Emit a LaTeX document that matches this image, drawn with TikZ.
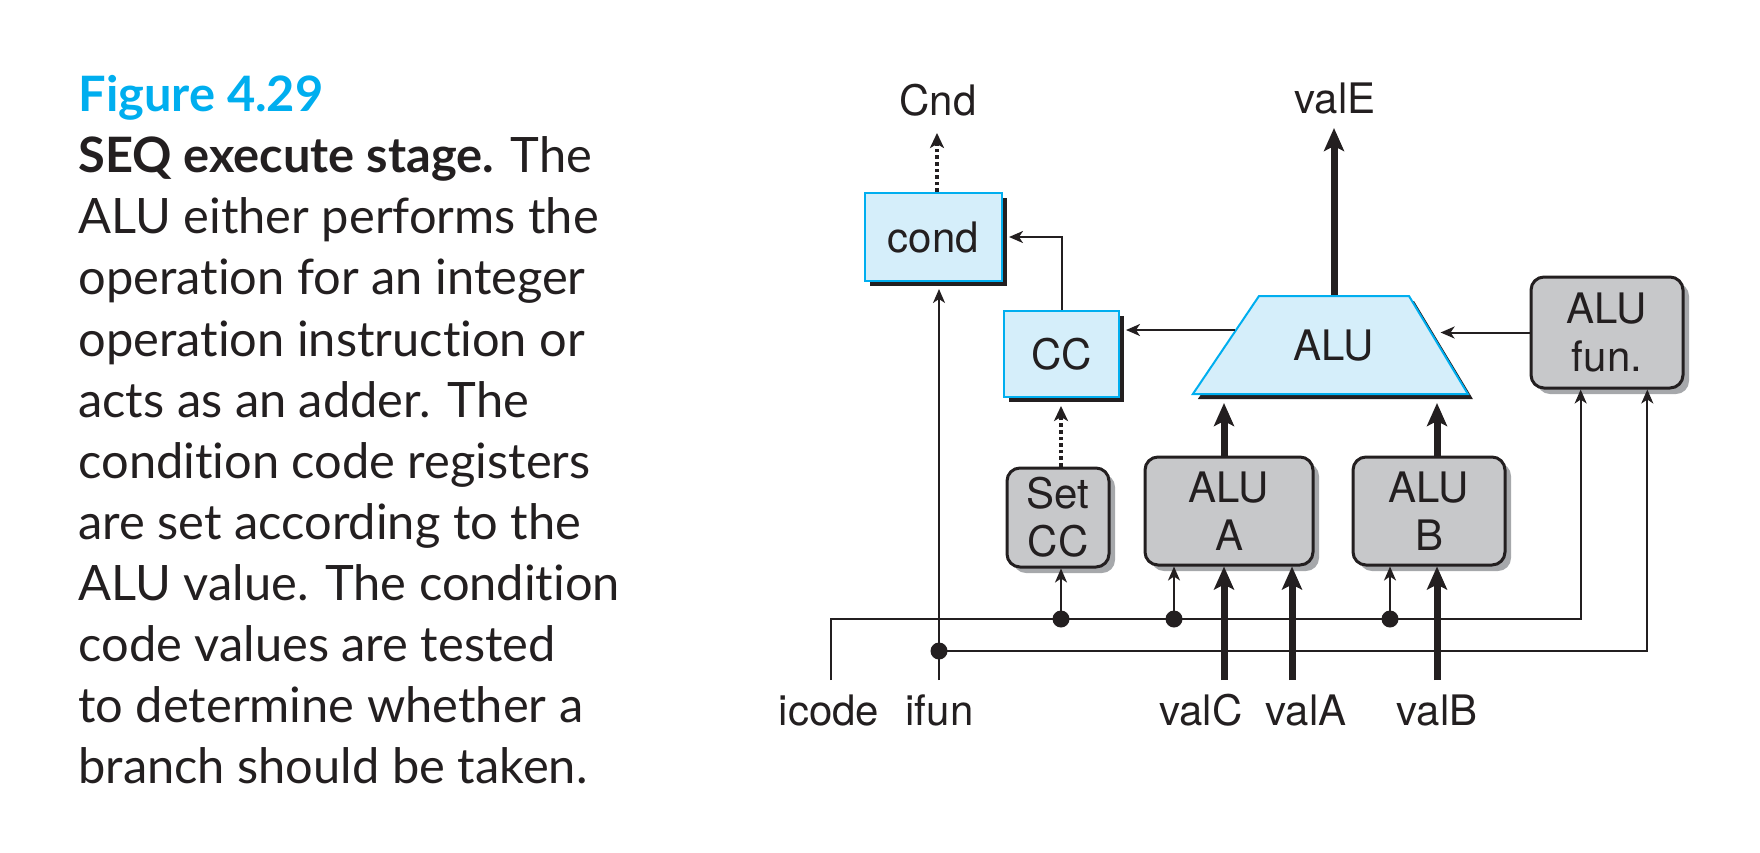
\documentclass[tikz,border=0pt]{standalone}
\usepackage{fontspec}
\newfontfamily\capfont[Ligatures=NoCommon]{Lato}
\newfontfamily\diafont{TeX Gyre Heros}
\usepackage{tikz}
\usetikzlibrary{shapes.geometric,arrows.meta,shadows}
\usetikzlibrary{positioning,calc}
\definecolor{figcyan}{HTML}{00AEEF}
\definecolor{boxblue}{HTML}{D5EEFA}
\definecolor{boxgray}{HTML}{C7C8CA}
\definecolor{shadegray}{HTML}{A6A8AB}
\definecolor{inkblack}{HTML}{231F20}
\tikzset{
  diatext/.style={font=\diafont\fontsize{21}{24}\selectfont,text=inkblack},
  blockbox/.style={diatext,draw=figcyan,line width=1pt,fill=boxblue,inner sep=0pt,
    drop shadow={shadow xshift=2.5pt,shadow yshift=-2.5pt,opacity=1,fill=inkblack}},
  logicbox/.style={diatext,draw=inkblack,line width=1.5pt,fill=boxgray,rounded corners=6.5pt,
    inner sep=0pt,align=center,
    drop shadow={shadow xshift=3pt,shadow yshift=-3pt,opacity=1,fill=shadegray}},
  signame/.style={diatext,inner sep=0pt,anchor=base},
  wire/.style={draw=inkblack,line width=1pt,arrows={-Stealth[length=7pt,width=6pt,inset=2pt]}},
  bus/.style={draw=inkblack,line width=3.5pt,arrows={-Stealth[length=11.5pt,width=10pt,inset=2.5pt]}},
  flag/.style={draw=inkblack,line width=1.8pt,dash pattern=on 1.8pt off 1.5pt,
    arrows={-Stealth[length=7.5pt,width=7pt,inset=2pt]}},
  junction/.style={circle,fill=inkblack,minimum size=8.5pt,inner sep=0pt}
}
\begin{document}
\begin{tikzpicture}[x=0.5pt,y=-0.5pt]
        \useasboundingbox (0,0) rectangle (1760,852);
        \node[anchor=north west,inner sep=0pt,align=left,text=inkblack,
          font=\capfont\fontsize{24.4}{30.55}\selectfont] (caption) at (78,75)
          {\textcolor{figcyan}{\bfseries Figure 4.29}\\
           {\bfseries SEQ execute stage.} The\\
           ALU either performs the\\
           operation for an integer\\
           operation instruction or\\
           acts as an adder. The\\
           condition code registers\\
           are set according to the\\
           ALU value. The condition\\
           code values are tested\\
           to determine whether a\\
           branch should be taken.};
        % blocks
        \node[blockbox,minimum width=68.5pt,minimum height=44pt] (cond) at (933.5,237) {cond};
        \node[blockbox,minimum width=57.5pt,minimum height=43pt] (cc) at (1061.5,354) {CC};
        \node[blockbox,trapezium,trapezium left angle=56,trapezium right angle=59,
          text width=75pt,align=center,text height=15pt,text depth=0pt,
          inner xsep=0pt,inner ysep=17pt,
          anchor=bottom left corner] (alu) at (1191,395) {ALU};
        \node[logicbox,minimum width=76pt,minimum height=55.5pt] (alufun) at (1607,332.5) {ALU\\fun.};
        \node[logicbox,minimum width=51pt,minimum height=49.5pt] (setcc) at (1058,517.5) {Set\\CC};
        \node[logicbox,minimum width=84pt,minimum height=54pt] (alua) at (1229,511) {ALU\\A};
        \node[logicbox,minimum width=76pt,minimum height=54pt] (alub) at (1429,511) {ALU\\B};
        % signal names
        \node[signame] (cnd) at (938,115) {Cnd};
        \node[signame] (vale) at (1335,113) {valE};
        \node[signame] (icode) at (829,725) {icode};
        \node[signame] (ifun) at (939.5,725) {ifun};
        \node[signame] (valc) at (1201,725) {valC};
        \node[signame] (vala) at (1306,725) {valA};
        \node[signame] (valb) at (1437,725) {valB};
        \coordinate (cndout) at (937,133);
        \coordinate (valeout) at (1333,128);
        \coordinate (icodein) at (831,680);
        \coordinate (ifunin) at (939,680);
        \coordinate (valcin) at (1224,680);
        \coordinate (valain) at (1292,680);
        \coordinate (valbin) at (1437,680);
        \node[junction] (dset) at (1061,619) {};
        \node[junction] (dalua) at (1174,619) {};
        \node[junction] (dalub) at (1390,619) {};
        \node[junction] (difun) at (939,651) {};
        \coordinate (fa) at ($(alufun.south west)!.33!(alufun.south east)$);
        \coordinate (fb) at ($(alufun.south west)!.76!(alufun.south east)$);
        \coordinate (alul) at ($(alu.top left corner)!.35!(alu.bottom left corner)$);
        \coordinate (alur) at ($(alu.top right corner)!.35!(alu.bottom right corner)$);
        % outputs
        \draw[flag] (cndout |- cond.north) -- (cndout);
        \draw[bus] (alu.top side) -- (alu.top side |- valeout);
        \draw[wire] (cc.north) |- ($(cond.east)+(3pt,0)$);
        \draw[wire] (alul) -- ($(cc.east |- alul)+(3pt,0)$);
        \draw[wire] (alufun.west) -- ($(alufun.west -| alur)+(5pt,0)$);
        \draw[flag] (dset |- setcc.north) -- ($(dset |- cc.south)+(0,-4pt)$);
        \draw[bus] (valcin |- alua.north) -- ($(valcin |- alu.bottom side)+(0,-4pt)$);
        \draw[bus] (valbin |- alub.north) -- ($(valbin |- alu.bottom side)+(0,-4pt)$);
        % inputs
        \draw[wire] (icodein) |- (dset.center) -| (fa);
        \draw[wire] (ifunin) -- ($(ifunin |- cond.south)+(0,-3.5pt)$);
        \draw[wire] (difun.center) -| (fb);
        \draw[wire] (dset.center) -- (dset |- setcc.south);
        \draw[wire] (dalua.center) -- (dalua |- alua.south);
        \draw[wire] (dalub.center) -- (dalub |- alub.south);
        \draw[bus] (valcin) -- (valcin |- alua.south);
        \draw[bus] (valain) -- (valain |- alua.south);
        \draw[bus] (valbin) -- (valbin |- alub.south);
\end{tikzpicture}
\end{document}
